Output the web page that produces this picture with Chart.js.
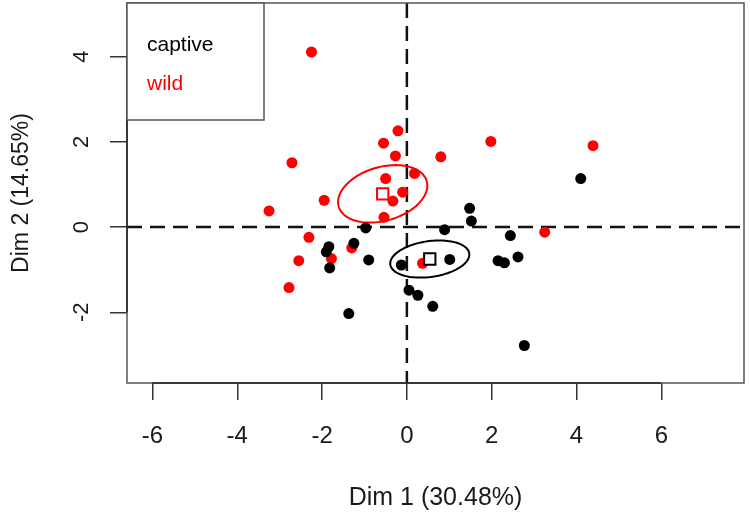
<!DOCTYPE html>
<html>
<head>
<meta charset="utf-8">
<script src="https://cdn.jsdelivr.net/npm/chart.js@4.4.1/dist/chart.umd.min.js"></script>
<style>
  html, body { margin: 0; padding: 0; background: #fff; }
  #wrap { width: 750px; height: 519px; }
</style>
</head>
<body>
<div id="wrap"><canvas id="chart-pca" width="750" height="519"></canvas></div>
<script>
// individuals on Dim 1 / Dim 2
const captiveX = [-0.97, -1.84, -1.90, -1.82, -1.25, -0.90, -1.37, -0.13, 0.05, 0.26, 0.61,
                  1.48, 1.52, 0.89, 2.44, 1.01, 2.15, 2.30, 2.62, 2.77, 4.10];
const captiveY = [-0.02, -0.46, -0.58, -0.96, -0.38, -0.77, -2.03, -0.89, -1.48, -1.60, -1.86,
                  0.44, 0.14, -0.06, -0.20, -0.76, -0.79, -0.84, -0.70, -2.78, 1.14];
const wildX = [-2.25, -2.71, -0.55, -0.21, -0.27, 0.18, -0.50, -0.10, -0.33, -0.54, -1.95,
               -3.25, 0.80, 1.98, 4.39, -2.31, -2.55, -2.78, -1.78, -1.30, 0.37, 3.25];
const wildY = [4.11, 1.51, 1.97, 2.26, 1.67, 1.26, 1.14, 0.82, 0.61, 0.23, 0.63,
               0.38, 1.65, 2.01, 1.91, -0.24, -0.79, -1.42, -0.74, -0.49, -0.85, -0.12];

// group centres (open squares) and their confidence ellipses
const groupNames = ['captive', 'wild'];
const groupColors = ['#000000', '#ff0000'];
const centreX = [0.54, -0.57];
const centreY = [-0.75, 0.78];
const ellipseA = [0.94, 1.08];      // semi major axis
const ellipseB = [0.42, 0.63];      // semi minor axis
const ellipseAngle = [8, 16];       // tilt, degrees

const xTicks = [-6, -4, -2, 0, 2, 4, 6];
const yTicks = [-2, 0, 2, 4];

const FONT = "'Liberation Sans', Arial, sans-serif";
Chart.defaults.font.family = FONT;
Chart.defaults.color = '#1a1a1a';

const toPts = (xs, ys) => xs.map((v, i) => ({ x: v, y: ys[i] }));

// dashed origin lines, ellipses, frame, axis lines, y labels and legend box
const pcaDecor = {
  id: 'pcaDecor',
  beforeDatasetsDraw(chart) {
    const { ctx, chartArea: a, scales: { x, y } } = chart;
    ctx.save();
    ctx.strokeStyle = '#111';
    ctx.lineWidth = 2.5;
    ctx.setLineDash([15, 8]);
    const x0 = x.getPixelForValue(0), y0 = y.getPixelForValue(0);
    ctx.beginPath();
    ctx.moveTo(a.left, y0); ctx.lineTo(a.right, y0);
    ctx.moveTo(x0, a.top); ctx.lineTo(x0, a.bottom);
    ctx.stroke();
    ctx.setLineDash([]);

    ctx.lineWidth = 2;
    groupNames.forEach((g, k) => {
      const t = ellipseAngle[k] * Math.PI / 180;
      ctx.strokeStyle = groupColors[k];
      ctx.beginPath();
      for (let i = 0; i <= 120; i++) {
        const p = i / 120 * 2 * Math.PI;
        const ex = ellipseA[k] * Math.cos(p), ey = ellipseB[k] * Math.sin(p);
        const px = x.getPixelForValue(centreX[k] + ex * Math.cos(t) - ey * Math.sin(t));
        const py = y.getPixelForValue(centreY[k] + ex * Math.sin(t) + ey * Math.cos(t));
        i ? ctx.lineTo(px, py) : ctx.moveTo(px, py);
      }
      ctx.stroke();
    });
    ctx.restore();
  },
  afterDraw(chart) {
    const { ctx, chartArea: a, scales: { x, y } } = chart;
    ctx.save();
    ctx.strokeStyle = '#555';
    ctx.lineWidth = 1.5;
    ctx.strokeRect(a.left, a.top, a.right - a.left, a.bottom - a.top);

    // R style axis lines, first to last tick only
    ctx.strokeStyle = '#222';
    ctx.beginPath();
    ctx.moveTo(x.getPixelForValue(xTicks[0]), a.bottom);
    ctx.lineTo(x.getPixelForValue(xTicks[xTicks.length - 1]), a.bottom);
    ctx.moveTo(a.left, y.getPixelForValue(yTicks[0]));
    ctx.lineTo(a.left, y.getPixelForValue(yTicks[yTicks.length - 1]));
    ctx.stroke();

    // y tick labels, turned like R's las = 0
    ctx.fillStyle = '#1a1a1a';
    ctx.font = '22px ' + FONT;
    ctx.textAlign = 'center';
    ctx.textBaseline = 'middle';
    y.ticks.forEach(t => {
      ctx.save();
      ctx.translate(a.left - 45, y.getPixelForValue(t.value));
      ctx.rotate(-Math.PI / 2);
      ctx.fillText(String(t.value), 0, 0);
      ctx.restore();
    });

    // legend box, top left
    ctx.strokeStyle = '#555';
    ctx.fillStyle = '#fff';
    ctx.fillRect(a.left, a.top, 137, 117);
    ctx.strokeRect(a.left, a.top, 137, 117);
    ctx.font = '21px ' + FONT;
    ctx.textAlign = 'left';
    groupNames.forEach((g, k) => {
      ctx.fillStyle = groupColors[k];
      ctx.fillText(g, a.left + 20, a.top + 42 + k * 39);
    });
    ctx.restore();
  }
};

new Chart(document.getElementById('chart-pca'), {
  type: 'scatter',
  data: {
    datasets: [
      { label: 'captive centre', data: [{ x: centreX[0], y: centreY[0] }], pointStyle: 'rect',
        pointRadius: 8, backgroundColor: '#fff', borderColor: groupColors[0], borderWidth: 2 },
      { label: 'wild centre', data: [{ x: centreX[1], y: centreY[1] }], pointStyle: 'rect',
        pointRadius: 8, backgroundColor: '#fff', borderColor: groupColors[1], borderWidth: 2 },
      { label: 'captive', data: toPts(captiveX, captiveY), pointRadius: 5.5,
        backgroundColor: groupColors[0], borderWidth: 0 },
      { label: 'wild', data: toPts(wildX, wildY), pointRadius: 5.5,
        backgroundColor: groupColors[1], borderWidth: 0 }
    ]
  },
  options: {
    responsive: false,
    animation: false,
    layout: { autoPadding: false, padding: { left: 0, top: 3, right: 6, bottom: 0 } },
    plugins: { legend: { display: false }, tooltip: { enabled: false } },
    scales: {
      x: {
        min: -6.6, max: 7.95,
        afterBuildTicks: s => { s.ticks = xTicks.map(v => ({ value: v })); },
        afterFit: s => { s.height = 136; s.paddingLeft = 0; s.paddingRight = 0; },
        border: { display: false },
        grid: { drawOnChartArea: false, drawTicks: true, tickLength: 17, color: '#333', lineWidth: 1.5 },
        ticks: { font: { size: 24 }, padding: 22, maxRotation: 0, minRotation: 0, color: '#1a1a1a' },
        title: { display: true, text: 'Dim 1 (30.48%)', font: { size: 25 }, padding: { top: 0, bottom: 6 }, color: '#1a1a1a' }
      },
      y: {
        min: -3.66, max: 5.26,
        afterBuildTicks: s => { s.ticks = yTicks.map(v => ({ value: v })); },
        afterFit: s => { s.width = 127; s.paddingTop = 0; s.paddingBottom = 0; },
        border: { display: false },
        grid: { drawOnChartArea: false, drawTicks: true, tickLength: 17, color: '#333', lineWidth: 1.5 },
        ticks: { display: false },
        title: { display: true, text: 'Dim 2 (14.65%)', font: { size: 23 }, padding: { top: 8, bottom: 0 }, color: '#1a1a1a' }
      }
    }
  },
  plugins: [pcaDecor]
});
</script>
</body>
</html>
